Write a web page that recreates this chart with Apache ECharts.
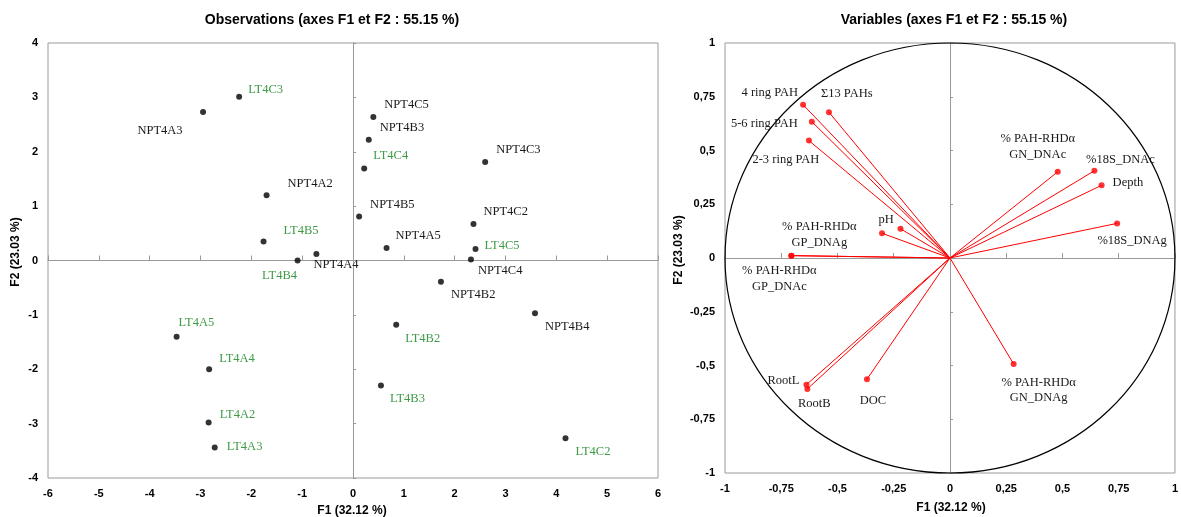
<!DOCTYPE html>
<html><head><meta charset="utf-8">
<script src="https://cdn.jsdelivr.net/npm/echarts@6/dist/echarts.min.js"></script>
<style>html,body{margin:0;padding:0;background:#fff}#c{width:1181px;height:517px}</style>
</head><body><div id="c"></div>
<script>
// ---------- DATA ----------
const obsNames = ['NPT4A2','NPT4A3','NPT4A4','NPT4A5','NPT4B2','NPT4B3','NPT4B4','NPT4B5','NPT4C2','NPT4C3','NPT4C4','NPT4C5',
                  'LT4A2','LT4A3','LT4A4','LT4A5','LT4B2','LT4B3','LT4B4','LT4B5','LT4C2','LT4C3','LT4C4','LT4C5'];
const obsF1 = [-1.70,-2.95,-0.72,0.66,1.73,0.31,3.58,0.12,2.37,2.60,2.32,0.40,
               -2.84,-2.72,-2.83,-3.47,0.85,0.55,-1.09,-1.76,4.18,-2.24,0.22,2.41];
const obsF2 = [1.20,2.73,0.12,0.23,-0.39,2.22,-0.97,0.81,0.67,1.81,0.02,2.64,
               -2.98,-3.44,-2.00,-1.40,-1.18,-2.30,0.00,0.35,-3.27,3.01,1.69,0.21];

const varNames = ['4 ring PAH','Σ13 PAHs','5-6 ring PAH','2-3 ring PAH','pH','',
                  '% PAH-RHDα\nGP_DNAg','% PAH-RHDα\nGP_DNAc','% PAH-RHDα\nGN_DNAc','%18S_DNAc','Depth','%18S_DNAg',
                  'RootL','RootB','DOC','% PAH-RHDα\nGN_DNAg'];
const varF1 = [-0.653,-0.538,-0.614,-0.627,-0.302,-0.220,-0.705,-0.705,0.479,0.642,0.674,0.743,-0.638,-0.634,-0.369,0.283];
const varF2 = [0.713,0.678,0.634,0.546,0.115,0.136,0.011,0.011,0.401,0.406,0.338,0.161,-0.589,-0.609,-0.564,-0.493];

const obsTicks = {min:-6, max:6, interval:1, ymin:-4, ymax:4};
const varTicks = {min:-1, max:1, interval:0.25};

const titleObs = 'Observations (axes F1 et F2 : 55.15 %)';
const titleVar = 'Variables (axes F1 et F2 : 55.15 %)';
const xName = 'F1 (32.12 %)';
const yName = 'F2 (23.03 %)';

// ---------- LABEL LAYOUT (align, dx, dy relative to point) ----------
const obsLabelLayout = {
  'NPT4A3':['center',-43,19], 'LT4C3':['left',9,-7], 'NPT4A2':['left',21,-12], 'LT4B5':['left',20,-11],
  'LT4B4':['center',-18,15], 'NPT4A4':['left',-3,11], 'NPT4B5':['left',11,-12], 'NPT4C5':['left',11,-12],
  'NPT4B3':['left',11,-12], 'LT4C4':['left',9,-13], 'NPT4C3':['left',11,-12], 'NPT4C2':['left',10,-12],
  'NPT4A5':['left',9,-12], 'LT4C5':['left',9,-3], 'NPT4C4':['left',7,11], 'NPT4B2':['left',10,13],
  'NPT4B4':['left',10,13], 'LT4B2':['left',9,14], 'LT4B3':['left',9,13], 'LT4C2':['left',10,13],
  'LT4A5':['left',2,-14], 'LT4A4':['left',10,-11], 'LT4A2':['left',11,-8], 'LT4A3':['left',12,-1]
};
const varLabelLayout = [
  ['right',-5,-12], ['left',-8,-19], ['right',-14,2], ['center',-23,19], ['center',4,-14], null,
  ['center',28,-21], ['center',-12,23], ['center',-20,-25], ['center',26,-11], ['left',11,-3], ['center',15,17],
  ['right',-7,-4], ['center',7,15], ['center',6,21], ['center',25,26]
];

const obsData = obsNames.map((n,i)=>[obsF1[i], obsF2[i], n]);
const varData = varNames.map((n,i)=>[varF1[i], varF2[i], i]);

const AX = '#9a9a9a';
const tickFont = {color:'#000', fontWeight:'bold', fontSize:11, fontFamily:'"Liberation Sans", Arial, sans-serif'};
const serif = '12.5px "Liberation Serif", "Times New Roman", serif';
const sansBold = '"Liberation Sans", Arial, sans-serif';
const comma = v => String(v).replace('.', ',');

function frameAxes(gridIndex, min, max, interval, fmt, dim){
  return [
    {type:'value', gridIndex, min, max, interval, position: dim==='x'?'bottom':'left',
     axisLine:{show:false, onZero:false}, axisTick:{show:false}, splitLine:{show:false},
     axisLabel:{...tickFont, margin:10, formatter: fmt}},
    {type:'value', gridIndex, min, max, interval, position: dim==='x'?'top':'right',
     axisLine:{show:true, onZero:true, lineStyle:{color:AX, width:1}},
     axisTick:{show:true, length: dim==='x'?5:3, lineStyle:{color:AX}},
     axisLabel:{show:false}, splitLine:{show:false}}
  ];
}

const chart = echarts.init(document.getElementById('c'), null, {renderer:'canvas'});
chart.setOption({
  backgroundColor:'#fff',
  animation:false,
  grid:[
    {left:48, right:1181-658, top:43, bottom:517-478, show:true, borderColor:AX, borderWidth:1},
    {left:725, right:1181-1177, top:43, bottom:517-473, show:true, borderColor:AX, borderWidth:1}
  ],
  xAxis:[
    ...frameAxes(0, obsTicks.min, obsTicks.max, obsTicks.interval, v=>String(v), 'x'),
    ...frameAxes(1, varTicks.min, varTicks.max, varTicks.interval, comma, 'x')
  ],
  yAxis:[
    ...frameAxes(0, obsTicks.ymin, obsTicks.ymax, obsTicks.interval, v=>String(v), 'y'),
    ...frameAxes(1, varTicks.min, varTicks.max, varTicks.interval, comma, 'y')
  ],
  graphic:[
    {type:'text', x:332, y:20, style:{text:titleObs, align:'center', verticalAlign:'middle', font:'bold 14px '+sansBold, fill:'#000'}},
    {type:'text', x:954, y:20, style:{text:titleVar, align:'center', verticalAlign:'middle', font:'bold 14px '+sansBold, fill:'#000'}},
    {type:'text', x:352, y:511, style:{text:xName, align:'center', verticalAlign:'middle', font:'bold 12px '+sansBold, fill:'#000'}},
    {type:'text', x:951, y:508, style:{text:xName, align:'center', verticalAlign:'middle', font:'bold 12px '+sansBold, fill:'#000'}},
    {type:'text', x:16, y:252, rotation:Math.PI/2, style:{text:yName, align:'center', verticalAlign:'middle', font:'bold 12px '+sansBold, fill:'#000'}},
    {type:'text', x:679, y:250, rotation:Math.PI/2, style:{text:yName, align:'center', verticalAlign:'middle', font:'bold 12px '+sansBold, fill:'#000'}}
  ],
  series:[
    {type:'scatter', xAxisIndex:0, yAxisIndex:0, data:obsData, symbolSize:6,
     itemStyle:{color:'#000'}, z:3},
    {type:'custom', xAxisIndex:0, yAxisIndex:0, data:obsData, clip:false, z:4,
     renderItem(params, api){
       const d = obsData[params.dataIndex];
       const p = api.coord([d[0], d[1]]);
       const lay = obsLabelLayout[d[2]];
       return {type:'text', x:p[0]+lay[1], y:p[1]+lay[2],
         style:{text:d[2], align:lay[0], verticalAlign:'middle', font:serif,
                fill: d[2].startsWith('LT') ? '#3f9a48' : '#1a1a1a'}};
     }},
    {type:'custom', xAxisIndex:2, yAxisIndex:2, data:[[0,0]], clip:false, z:2,
     renderItem(params, api){
       const c = api.coord([0,0]);
       const s = api.size([1,1]);
       return {type:'ellipse', shape:{cx:c[0], cy:c[1], rx:s[0], ry:s[1]},
         style:{fill:'none', stroke:'#000', lineWidth:1.2}};
     }},
    {type:'custom', xAxisIndex:2, yAxisIndex:2, data:varData, clip:false, z:3,
     renderItem(params, api){
       const d = varData[params.dataIndex];
       const o = api.coord([0,0]);
       const p = api.coord([d[0], d[1]]);
       return {type:'line', shape:{x1:o[0], y1:o[1], x2:p[0], y2:p[1]},
         style:{stroke:'#ff0000', lineWidth:1}};
     }},
    {type:'scatter', xAxisIndex:2, yAxisIndex:2, data:varData, symbolSize:6,
     itemStyle:{color:'#ff0000'}, z:4},
    {type:'custom', xAxisIndex:2, yAxisIndex:2, data:varData, clip:false, z:5,
     renderItem(params, api){
       const i = params.dataIndex;
       const lay = varLabelLayout[i];
       if (!lay || !varNames[i]) return null;
       const p = api.coord([varF1[i], varF2[i]]);
       return {type:'text', x:p[0]+lay[1], y:p[1]+lay[2],
         style:{text:varNames[i], align:lay[0], verticalAlign:'middle', font:serif,
                fill:'#1a1a1a', lineHeight:15.5}};
     }}
  ]
});
</script>
</body></html>
